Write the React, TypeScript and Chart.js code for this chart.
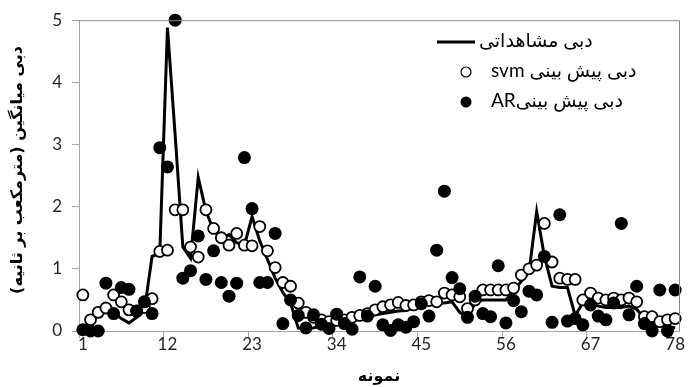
import { useEffect, useRef } from 'react';
import { Chart, registerables } from 'chart.js';

Chart.register(...registerables);

// sample numbers 1..78
const samples: string[] = Array.from({ length: 78 }, (_, i) => String(i + 1));
const shownTicks: string[] = ['1', '12', '23', '34', '45', '56', '67', '78'];

const observed: number[] = [
  0.03, 0.15, 0.3, 0.4, 0.3, 0.2, 0.13, 0.22, 0.33, 1.2,
  1.25, 4.88, 3.15, 1.35, 1.17, 2.47, 1.93, 1.62, 1.48, 1.55,
  1.42, 1.38, 1.84, 1.45, 1.15, 0.85, 0.62, 0.45, 0.05, 0.03,
  0.05, 0.08, 0.08, 0.1, 0.15, 0.18, 0.2, 0.22, 0.26, 0.28,
  0.3, 0.32, 0.33, 0.38, 0.42, 0.45, 0.45, 0.45, 0.47, 0.3,
  0.22, 0.45, 0.5, 0.5, 0.5, 0.5, 0.65, 0.8, 0.95, 1.92,
  1.2, 0.72, 0.7, 0.7, 0.25, 0.45, 0.45, 0.4, 0.38, 0.38,
  0.38, 0.4, 0.35, 0.2, 0.12, 0.1, 0.08, 0.05,
];

const svmPred: number[] = [
  0.58, 0.18, 0.3, 0.37, 0.58, 0.47, 0.34, 0.32, 0.38, 0.52,
  1.28, 1.3, 1.95, 1.95, 1.35, 1.19, 1.95, 1.65, 1.5, 1.38,
  1.57, 1.38, 1.37, 1.68, 1.29, 1.02, 0.78, 0.72, 0.45, 0.3,
  0.22, 0.18, 0.15, 0.17, 0.18, 0.22, 0.25, 0.28, 0.34, 0.39,
  0.42, 0.46, 0.41, 0.42, 0.47, 0.49, 0.47, 0.61, 0.58, 0.55,
  0.36, 0.5, 0.66, 0.66, 0.66, 0.66, 0.69, 0.9, 1.0, 1.06,
  1.73, 1.11, 0.85, 0.83, 0.83, 0.5, 0.61, 0.53, 0.5, 0.53,
  0.5, 0.53, 0.47, 0.23, 0.23, 0.15, 0.18, 0.2,
];

const arPred: number[] = [
  0.02, 0.0, 0.0, 0.77, 0.28, 0.7, 0.67, 0.32, 0.47, 0.28,
  2.95, 2.64, 5.0, 0.85, 0.97, 1.53, 0.83, 1.29, 0.78, 0.56,
  0.77, 2.79, 1.97, 0.78, 0.78, 1.57, 0.12, 0.5, 0.25, 0.05,
  0.26, 0.11, 0.04, 0.27, 0.12, 0.03, 0.87, 0.24, 0.72, 0.1,
  0.01, 0.1, 0.06, 0.15, 0.44, 0.24, 1.3, 2.25, 0.86, 0.68,
  0.22, 0.56, 0.28, 0.23, 1.05, 0.13, 0.49, 0.31, 0.64, 0.58,
  1.2, 0.14, 1.87, 0.16, 0.2, 0.1, 0.42, 0.24, 0.18, 0.45,
  1.73, 0.26, 0.72, 0.12, 0.0, 0.66, 0.0, 0.66,
];

const seriesNames: string[] = ['دبی مشاهداتی', 'دبی پیش بینی svm', 'دبی پیش بینیAR'];
const yTitle = 'دبی میانگین (مترمکعب بر ثانیه)';
const xTitle = 'نمونه';

const LATIN = "Lato, 'DejaVu Sans', sans-serif";
const MIXED = "Lato, 'DejaVu Sans', sans-serif";

const decorPlugin = {
  id: 'decor',
  afterDraw(chart: any) {
    const { ctx, chartArea } = chart;
    const { left, right, top, bottom } = chartArea;
    ctx.save();
    // plot area border (top & right)
    ctx.strokeStyle = '#868686';
    ctx.lineWidth = 1;
    ctx.beginPath();
    ctx.moveTo(left, top + 0.5);
    ctx.lineTo(right + 0.5, top + 0.5);
    ctx.lineTo(right + 0.5, bottom);
    ctx.stroke();

    // axis titles
    ctx.fillStyle = '#000';
    ctx.direction = 'rtl';
    ctx.textAlign = 'center';
    ctx.textBaseline = 'middle';
    ctx.font = "bold 16px 'DejaVu Sans', sans-serif";
    ctx.save();
    ctx.translate(18, 170);
    ctx.rotate(-Math.PI / 2);
    ctx.fillText(yTitle, 0, 0);
    ctx.restore();
    ctx.fillText(xTitle, (left + right) / 2, 377);

    // legend
    ctx.font = `19px ${MIXED}`;
    ctx.textAlign = 'left';
    ctx.direction = 'rtl';
    // entry 1 : line
    ctx.strokeStyle = '#000';
    ctx.lineWidth = 3;
    ctx.beginPath();
    ctx.moveTo(437, 42);
    ctx.lineTo(475, 42);
    ctx.stroke();
    ctx.fillText(seriesNames[0], 479, 41);
    // entry 2 : open circle
    ctx.lineWidth = 1.2;
    ctx.fillStyle = '#fff';
    ctx.beginPath();
    ctx.arc(466, 72, 5, 0, Math.PI * 2);
    ctx.fill();
    ctx.stroke();
    ctx.fillStyle = '#000';
    ctx.fillText(seriesNames[1], 491, 71);
    // entry 3 : filled circle
    ctx.beginPath();
    ctx.arc(466, 102, 5.5, 0, Math.PI * 2);
    ctx.fill();
    ctx.fillText(seriesNames[2], 491, 101);
    ctx.restore();
  },
};

export default function App() {
  const ref = useRef<HTMLCanvasElement | null>(null);

  useEffect(() => {
    document.body.style.margin = '0';
    const canvas = ref.current;
    if (!canvas) return;
    const axisColor = '#a6a6a6';
    const chart = new Chart(canvas, {
      type: 'line',
      data: {
        labels: samples,
        datasets: [
          {
            label: seriesNames[0],
            data: observed,
            borderColor: '#000',
            borderWidth: 3,
            pointRadius: 0,
            tension: 0,
            fill: false,
            order: 3,
          },
          {
            label: seriesNames[1],
            data: svmPred,
            showLine: false,
            pointRadius: 5.5,
            pointBorderWidth: 1.8,
            pointBorderColor: '#000',
            pointBackgroundColor: '#fff',
            order: 2,
          },
          {
            label: seriesNames[2],
            data: arPred,
            showLine: false,
            pointRadius: 6.5,
            pointBorderWidth: 0,
            pointBorderColor: '#000',
            pointBackgroundColor: '#000',
            order: 1,
          },
        ],
      },
      options: {
        responsive: false,
        animation: false,
        clip: false as any,
        layout: { padding: { top: 20, right: 10, left: 0, bottom: 0 } },
        plugins: {
          legend: { display: false },
          tooltip: { enabled: false },
        },
        scales: {
          x: {
            type: 'category',
            offset: true,
            grid: {
              offset: true,
              drawOnChartArea: false,
              drawTicks: true,
              tickLength: 7,
              color: (c: any) => (c.index % 11 === 0 && c.index < samples.length ? axisColor : 'rgba(0,0,0,0)'),
            },
            border: { display: true, color: axisColor, width: 1 },
            ticks: {
              autoSkip: false,
              maxRotation: 0,
              minRotation: 0,
              padding: -4,
              color: '#262626',
              font: { family: LATIN, size: 17 },
              callback: (_v: any, i: number) => (shownTicks.includes(samples[i]) ? samples[i] : ''),
            },
            afterFit: (s: any) => {
              s.height = 56;
            },
          },
          y: {
            min: 0,
            max: 5,
            ticks: {
              stepSize: 1,
              padding: 10,
              color: '#262626',
              font: { family: LATIN, size: 17 },
            },
            grid: {
              drawOnChartArea: false,
              drawTicks: true,
              tickLength: 7,
              color: axisColor,
            },
            border: { display: true, color: axisColor, width: 1 },
            afterFit: (s: any) => {
              s.width = 79;
            },
          },
        },
      },
      plugins: [decorPlugin],
    });
    return () => chart.destroy();
  }, []);

  return <canvas ref={ref} width={689} height={387} style={{ display: 'block' }} />;
}
